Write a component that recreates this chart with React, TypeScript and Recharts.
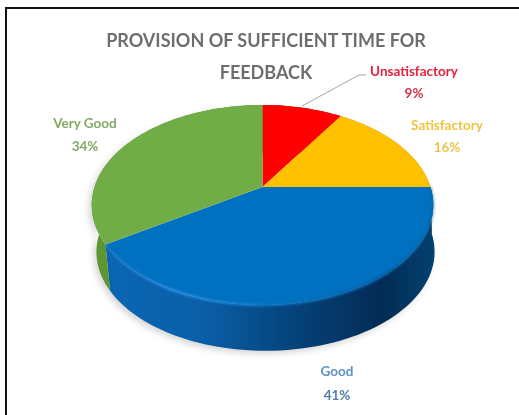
import React from "react";
import { Pie, PieChart } from "recharts";

const categories = ["Unsatisfactory", "Satisfactory", "Good", "Very Good"];
const percentages = [9, 16, 41, 34];
const titleLines = ["PROVISION OF SUFFICIENT TIME FOR", "FEEDBACK"];

const faceColors = ["#ff0000", "#ffc000", "#0070c0", "#70ad47"];
const wallFills = ["#b00000", "#b08500", "url(#blueWall)", "#5b9632"];
const labelColors = ["#e8203f", "#f2c23e", "#5b90c8", "#82aa66"];
const valueColors = ["#d9304a", "#eec24a", "#4f7fb0", "#82aa66"];
const labelCenters = [
  [414, 76, 98],
  [447, 130, 152],
  [337, 376, 400],
  [85, 128, 151],
];

const FONT = "Lato, sans-serif";
const RADIUS = 168;
const TILT = 0.576; // vertical squash of the pie plate
const PERSPECTIVE = 0.18; // back of the plate is smaller than the front
const WALL_DROP = 47;
const WALL_SHIFT = 3;
const WALL_SCALE = 0.99;

const tableData = categories.map((name, i) => ({ name, value: percentages[i] }));

// sector angle -> point on the tilted plate
const project = (cx: number, cy: number, r: number, deg: number) => {
  const a = (deg * Math.PI) / 180;
  const d = 1 + PERSPECTIVE * Math.sin(a);
  return [cx + (r * Math.cos(a)) / d, cy - (r * TILT * Math.sin(a)) / d];
};

const arcPoints = (cx: number, cy: number, r: number, from: number, to: number) => {
  const steps = Math.max(2, Math.ceil(Math.abs(to - from) / 2));
  const pts: number[][] = [];
  for (let i = 0; i <= steps; i++) {
    pts.push(project(cx, cy, r, from + ((to - from) * i) / steps));
  }
  return pts;
};

const toPath = (pts: number[][]) =>
  pts.map((p, i) => `${i ? "L" : "M"}${p[0].toFixed(2)} ${p[1].toFixed(2)}`).join(" ");

const TopFace = (props: any) => {
  const { cx, cy, outerRadius, startAngle, endAngle, index } = props;
  const rim = arcPoints(cx, cy, outerRadius, startAngle, endAngle);
  return (
    <g>
      <path d={`M${cx} ${cy} ${toPath(rim).replace("M", "L")} Z`} fill={faceColors[index]} />
      {index === 2 && (
        <path d={toPath(rim)} fill="none" stroke="url(#blueRim)" strokeWidth={2.5} style={{ filter: "blur(0.8px)" }} />
      )}
    </g>
  );
};

const SideWall = (props: any) => {
  const { cx, cy, outerRadius, startAngle, endAngle, index } = props;
  const top = arcPoints(cx, cy, outerRadius, startAngle, endAngle);
  const bottom = arcPoints(cx + WALL_SHIFT, cy + WALL_DROP, outerRadius * WALL_SCALE, startAngle, endAngle).reverse();
  return (
    <path
      d={`${toPath(top)} ${toPath(bottom).replace("M", "L")} Z`}
      fill={wallFills[index]}
      style={{ filter: "drop-shadow(-3px 3px 3px rgba(0,0,0,0.16))" }}
    />
  );
};

const renderLabel = (props: any) => {
  const { index } = props;
  const [x, y1, y2] = labelCenters[index];
  return (
    <g key={categories[index]}>
      {index === 0 && (
        <polyline points="302,106 359,75 366,75" fill="none" stroke="#a6a6a6" strokeWidth={1} />
      )}
      <text x={x} y={y1} textAnchor="middle" fontFamily={FONT} fontSize={13.5} fontWeight={700} fill={labelColors[index]}>
        {categories[index]}
      </text>
      <text x={x} y={y2} textAnchor="middle" fontFamily={FONT} fontSize={13.5} fontWeight={700} fill={valueColors[index]}>
        {percentages[index]}%
      </text>
    </g>
  );
};

export default function App() {
  return (
    <div style={{ position: "absolute", left: 0, top: 0, width: 519, height: 415, overflow: "hidden", background: "#fff" }}>
      <div style={{ position: "absolute", left: 0, top: 0, width: 519, height: 415, filter: "blur(0.7px)" }}>
        <div style={{ position: "absolute", left: 5, top: 7, width: 540, height: 440, border: "2px solid #111", boxSizing: "border-box" }} />
        <PieChart width={519} height={415} margin={{ top: 0, right: 0, bottom: 0, left: 0 }} style={{ position: "absolute", left: 0, top: 0 }}>
          <defs>
            <linearGradient id="blueWall" gradientUnits="userSpaceOnUse" x1={105} y1={0} x2={432} y2={0}>
              <stop offset="0" stopColor="#0a66b4" />
              <stop offset="0.3" stopColor="#0a5fa8" />
              <stop offset="0.55" stopColor="#05457f" />
              <stop offset="0.85" stopColor="#032b55" />
              <stop offset="1" stopColor="#03406f" />
            </linearGradient>
            <linearGradient id="blueRim" gradientUnits="userSpaceOnUse" x1={105} y1={0} x2={432} y2={0}>
              <stop offset="0" stopColor="#1a7cd0" stopOpacity={0.5} />
              <stop offset="0.2" stopColor="#2f90e4" />
              <stop offset="0.5" stopColor="#0f78c8" />
              <stop offset="0.85" stopColor="#075a9a" />
              <stop offset="1" stopColor="#075a9a" stopOpacity={0.4} />
            </linearGradient>
          </defs>
          <Pie
            data={tableData}
            dataKey="value"
            nameKey="name"
            cx={262.5}
            cy={187}
            outerRadius={RADIUS}
            startAngle={90}
            endAngle={-270}
            stroke="none"
            shape={SideWall}
            label={false}
            labelLine={false}
            isAnimationActive={false}
          />
          <Pie
            data={tableData}
            dataKey="value"
            nameKey="name"
            cx={262.5}
            cy={187}
            outerRadius={RADIUS}
            startAngle={90}
            endAngle={-270}
            stroke="none"
            shape={TopFace}
            label={renderLabel}
            labelLine={false}
            isAnimationActive={false}
          />
          {titleLines.map((line, i) => (
            <text key={line} x={266} y={47 + i * 32} textAnchor="middle" fontFamily={FONT} fontSize={18} fontWeight={700} fill="#6e6e6e">
              {line}
            </text>
          ))}
        </PieChart>
      </div>
    </div>
  );
}
